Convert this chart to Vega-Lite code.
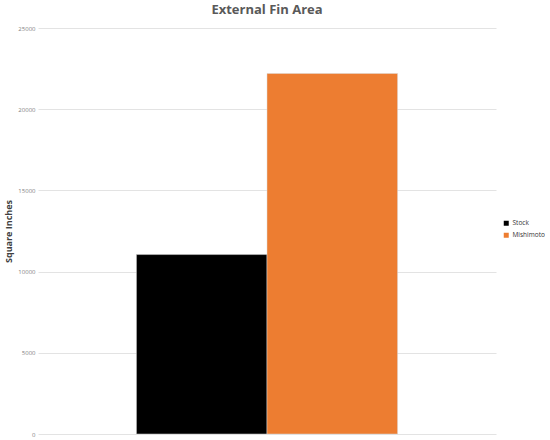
{
  "$schema": "https://vega.github.io/schema/vega-lite/v6.json",
  "title": {
    "text": "External Fin Area",
    "font": "Open Sans",
    "fontSize": 13,
    "fontWeight": "bold",
    "color": "#595959",
    "offset": 8
  },
  "width": 458,
  "height": 406,
  "padding": {"left": 4, "top": 4, "right": 0, "bottom": 0},
  "data": {
    "values": [
      {"chart": "External Fin Area", "series": "Stock", "area": 11050},
      {"chart": "External Fin Area", "series": "Mishimoto", "area": 22200}
    ]
  },
  "mark": {"type": "bar", "stroke": "#d9d9d9", "strokeWidth": 0.5},
  "encoding": {
    "x": {
      "field": "chart",
      "type": "nominal",
      "axis": null,
      "scale": {"paddingInner": 0, "paddingOuter": 0.377}
    },
    "xOffset": {
      "field": "series",
      "type": "nominal",
      "sort": ["Stock", "Mishimoto"],
      "scale": {"paddingInner": 0, "paddingOuter": 0}
    },
    "y": {
      "field": "area",
      "type": "quantitative",
      "scale": {"domain": [0, 25000], "nice": false},
      "axis": {
        "values": [0, 5000, 10000, 15000, 20000, 25000],
        "format": "d",
        "title": "Square Inches",
        "titleFont": "Open Sans",
        "titleFontSize": 9,
        "titleFontWeight": "bold",
        "titleColor": "#404040",
        "titlePadding": 4,
        "labelFont": "Open Sans",
        "labelFontSize": 6,
        "labelColor": "#7f7f7f",
        "labelPadding": 3,
        "domain": false,
        "ticks": false,
        "grid": true,
        "gridColor": "#e3e3e3",
        "gridWidth": 1
      }
    },
    "color": {
      "field": "series",
      "type": "nominal",
      "sort": ["Stock", "Mishimoto"],
      "scale": {"domain": ["Stock", "Mishimoto"], "range": ["#000000", "#ed7d31"]},
      "legend": {
        "title": null,
        "orient": "none",
        "legendX": 465,
        "legendY": 192,
        "symbolType": "square",
        "symbolSize": 25,
        "symbolStrokeWidth": 0,
        "labelFont": "Open Sans",
        "labelFontSize": 6.5,
        "labelOffset": 3,
        "labelColor": "#333333",
        "rowPadding": 5
      }
    }
  },
  "config": {"view": {"stroke": null}, "background": "white"}
}
